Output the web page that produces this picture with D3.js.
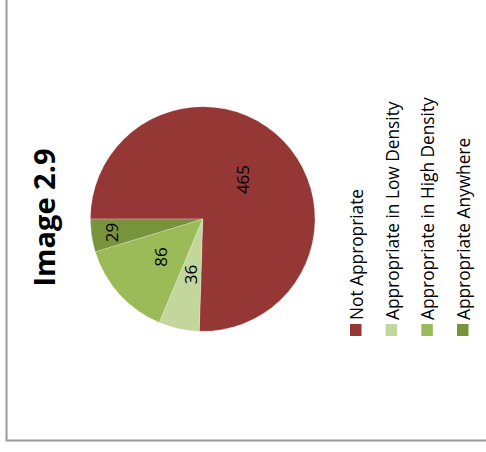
<!DOCTYPE html>
<html>
<head>
<meta charset="utf-8">
<script src="https://cdn.jsdelivr.net/npm/d3@7"></script>
<style>
  html, body { margin: 0; padding: 0; background: #fff; }
  svg { display: block; }
</style>
</head>
<body>
<svg id="chart" width="486" height="452"></svg>
<script>
const title = "Image 2.9";
const categories = ["Not Appropriate", "Appropriate in Low Density", "Appropriate in High Density", "Appropriate Anywhere"];
const values = [465, 36, 86, 29];
const colors = ["#953735", "#C3D69B", "#9BBB59", "#77933C"];

const svg = d3.select("#chart");
const font = "'Open Sans', 'DejaVu Sans', sans-serif";

// frame (extends beyond the top and right of the view)
svg.append("rect")
  .attr("x", 6.5).attr("y", -20)
  .attr("width", 520).attr("height", 460.5)
  .attr("fill", "none").attr("stroke", "#9a9a9a").attr("stroke-width", 2);

// The whole chart is rotated 90° counter-clockwise: the pie starts at 9 o'clock.
const cx = 202.7, cy = 219, r = 112.3;
const pie = d3.pie().sort(null).value(d => d)
  .startAngle(-Math.PI / 2).endAngle(1.5 * Math.PI);
const arcs = pie(values);
const arc = d3.arc().innerRadius(0).outerRadius(r);

const g = svg.append("g").attr("transform", `translate(${cx},${cy})`);
g.selectAll("path.slice").data(arcs).enter().append("path")
  .attr("class", "slice")
  .attr("d", arc)
  .attr("fill", (d, i) => colors[i])
  .attr("stroke", "#ffffff").attr("stroke-width", 0.4).attr("stroke-opacity", 0.6);

// data labels (rotated with the chart); narrow slices get labels pushed outward
g.selectAll("text.lbl").data(arcs).enter().append("text")
  .attr("class", "lbl")
  .attr("transform", d => {
    const span = d.endAngle - d.startAngle;
    const lr = span < 0.33 ? 0.82 * r : 0.505 * r;
    const a = (d.startAngle + d.endAngle) / 2;
    const x = Math.sin(a) * lr, y = -Math.cos(a) * lr;
    return `translate(${x},${y}) rotate(-90)`;
  })
  .attr("text-anchor", "middle")
  .attr("dy", "0.35em")
  .attr("font-family", font).attr("font-size", 17).attr("fill", "#000")
  .text(d => d.data);

// title
svg.append("text")
  .attr("transform", "translate(55,217.5) rotate(-90)")
  .attr("text-anchor", "middle")
  .attr("font-family", font).attr("font-weight", "bold").attr("font-size", 29)
  .attr("fill", "#000")
  .text(title);

// legend
const legX = d3.scalePoint().domain(categories).range([363, 470]);
const leg = svg.append("g");
const items = leg.selectAll("g.item").data(categories).enter().append("g")
  .attr("class", "item")
  .attr("transform", d => `translate(${legX(d)},0)`);
items.append("rect")
  .attr("x", -13).attr("y", 324)
  .attr("width", 11.5).attr("height", 12)
  .attr("fill", (d, i) => colors[i]);
items.append("text")
  .attr("transform", "translate(0,320) rotate(-90)")
  .attr("text-anchor", "start")
  .attr("font-family", font).attr("font-size", 17.3).attr("fill", "#000")
  .text(d => d);
</script>
</body>
</html>
